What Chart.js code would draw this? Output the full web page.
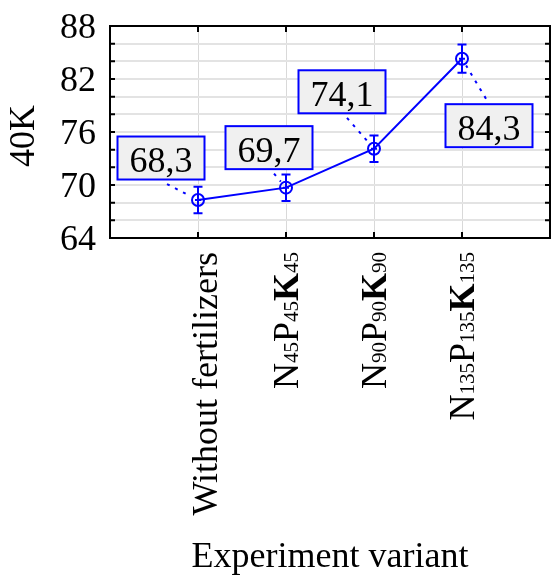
<!DOCTYPE html>
<html>
<head>
<meta charset="utf-8">
<script src="https://cdn.jsdelivr.net/npm/chart.js@4.4.1/dist/chart.umd.min.js"></script>
<style>
  html, body { margin: 0; padding: 0; background: #fff; overflow: hidden; }
  #wrap { width: 552px; height: 576px; }
  canvas { display: block; }
</style>
</head>
<body>
<div id="wrap"><canvas id="chart"></canvas></div>
<script>
const categories = ["Without fertilizers", "N45P45K45", "N90P90K90", "N135P135K135"];
const values = [68.3, 69.7, 74.1, 84.3];
const errors = [1.5, 1.5, 1.5, 1.6];
const yTicks = [64, 70, 76, 82, 88];
const yTitle = "40K";
const xTitle = "Experiment variant";

// where each value box sits, and where its dotted leader starts (px from the point)
const boxOffsets = [[-37, -42], [-17, -40], [-32, -57], [27, 67]];
const leaderStarts = [[-31, -16], [-12, -14], [-27, -31], [24, 40]];
const tickShift = [19, 12, 12, 12];

const FONT = "'Liberation Serif', 'Times New Roman', serif";
const BLUE = "#0000ff";

// "N45P45K45" -> N, 45 (sub), P, 45 (sub), K (bold), 45 (sub)
function labelParts(txt) {
  if (!/^([NPK]\d+)+$/.test(txt)) return [{ t: txt, sub: false, bold: false }];
  const parts = [];
  txt.replace(/([NPK])(\d+)/g, (m, el, n) => {
    parts.push({ t: el, sub: false, bold: el === "K" });
    parts.push({ t: n, sub: true, bold: false });
  });
  return parts;
}

function partFont(p) {
  return (p.bold ? "bold " : "") + (p.sub ? "21px " : "36px ") + FONT;
}

const fmt = v => v.toFixed(1).replace(".", ",");

const frame = {
  id: "frame",
  beforeDatasetsDraw(chart) {
    const { ctx, chartArea: a, scales } = chart;
    ctx.save();
    ctx.strokeStyle = "#000";
    ctx.lineWidth = 2;
    ctx.strokeRect(a.left, a.top, a.right - a.left, a.bottom - a.top);
    // inward tick marks
    ctx.beginPath();
    for (let v = 64; v <= 88; v += 2) {
      const y = scales.y.getPixelForValue(v);
      ctx.moveTo(a.left, y); ctx.lineTo(a.left + 5, y);
      ctx.moveTo(a.right, y); ctx.lineTo(a.right - 5, y);
    }
    categories.forEach((c, i) => {
      const x = scales.x.getPixelForValue(i);
      ctx.moveTo(x, a.top); ctx.lineTo(x, a.top + 6);
      ctx.moveTo(x, a.bottom); ctx.lineTo(x, a.bottom - 6);
    });
    ctx.stroke();

    // y tick labels
    ctx.fillStyle = "#000";
    ctx.font = "36px " + FONT;
    ctx.textAlign = "right";
    ctx.textBaseline = "alphabetic";
    yTicks.forEach(v => {
      ctx.fillText(String(v), a.left - 14, scales.y.getPixelForValue(v) + 12);
    });
    ctx.restore();
  },
  afterDatasetsDraw(chart) {
    const { ctx, chartArea: a, scales } = chart;
    const xs = scales.x, ys = scales.y;
    ctx.save();

    // error bars + cross inside markers
    ctx.strokeStyle = BLUE;
    ctx.lineWidth = 2;
    values.forEach((v, i) => {
      const x = xs.getPixelForValue(i);
      const y = ys.getPixelForValue(v);
      const t = ys.getPixelForValue(v + errors[i]);
      const b = ys.getPixelForValue(v - errors[i]);
      ctx.beginPath();
      ctx.moveTo(x, t); ctx.lineTo(x, b);
      ctx.moveTo(x - 4.5, t); ctx.lineTo(x + 4.5, t);
      ctx.moveTo(x - 4.5, b); ctx.lineTo(x + 4.5, b);
      ctx.moveTo(x - 3, y); ctx.lineTo(x + 3, y);
      ctx.stroke();
    });

    // value boxes with dotted leaders
    ctx.font = "36px " + FONT;
    values.forEach((v, i) => {
      const px = xs.getPixelForValue(i);
      const py = ys.getPixelForValue(v);
      const sx = px + leaderStarts[i][0], sy = py + leaderStarts[i][1];
      const d = Math.hypot(px - sx, py - sy);
      const ex = px - (px - sx) / d * 8, ey = py - (py - sy) / d * 8;
      ctx.save();
      ctx.setLineDash([3, 6]);
      ctx.beginPath();
      ctx.moveTo(sx, sy); ctx.lineTo(ex, ey);
      ctx.stroke();
      ctx.restore();

      const txt = fmt(v);
      const w = ctx.measureText(txt).width + 24, h = 43;
      const cx = px + boxOffsets[i][0], cy = py + boxOffsets[i][1];
      ctx.fillStyle = "#f0f0f0";
      ctx.fillRect(cx - w / 2, cy - h / 2, w, h);
      ctx.strokeRect(cx - w / 2, cy - h / 2, w, h);
      ctx.fillStyle = "#000";
      ctx.textAlign = "center";
      ctx.textBaseline = "alphabetic";
      ctx.fillText(txt, cx, cy + 14);
    });

    // rotated category labels with subscripts
    ctx.fillStyle = "#000";
    ctx.textAlign = "left";
    ctx.textBaseline = "alphabetic";
    categories.forEach((c, i) => {
      const parts = labelParts(c);
      let total = 0;
      parts.forEach(p => { ctx.font = partFont(p); p.w = ctx.measureText(p.t).width; total += p.w; });
      ctx.save();
      ctx.translate(xs.getPixelForValue(i) + tickShift[i], a.bottom + 14);
      ctx.rotate(-Math.PI / 2);
      let x = -total;
      parts.forEach(p => {
        ctx.font = partFont(p);
        ctx.fillText(p.t, x, 0);
        x += p.w;
      });
      ctx.restore();
    });

    // axis titles
    ctx.font = "36px " + FONT;
    ctx.textAlign = "center";
    ctx.fillText(xTitle, (a.left + a.right) / 2, 567);
    ctx.save();
    ctx.translate(34, (a.top + a.bottom) / 2 + 4);
    ctx.rotate(-Math.PI / 2);
    ctx.fillText(yTitle, 0, 0);
    ctx.restore();

    ctx.restore();
  }
};

const ctx = document.getElementById("chart").getContext("2d");

new Chart(ctx, {
  type: "line",
  data: {
    datasets: [{
      data: values.map((v, i) => ({ x: i, y: v })),
      borderColor: BLUE,
      borderWidth: 2,
      pointRadius: 6,
      pointBorderWidth: 2,
      pointBorderColor: BLUE,
      pointBackgroundColor: "rgba(0,0,0,0)",
      tension: 0,
      clip: false
    }]
  },
  options: {
    responsive: true,
    maintainAspectRatio: false,
    animation: false,
    layout: { autoPadding: false, padding: { top: 26, right: 2, left: 0, bottom: 0 } },
    plugins: { legend: { display: false }, tooltip: { enabled: false } },
    scales: {
      x: {
        type: "linear",
        min: -1,
        max: 4,
        afterBuildTicks: s => { s.ticks = categories.map((c, i) => ({ value: i })); },
        ticks: { display: false },
        grid: { color: "#d9d9d9", lineWidth: 1, drawTicks: false },
        border: { display: false },
        afterFit: s => { s.height = 338; }
      },
      y: {
        min: 64,
        max: 88,
        afterBuildTicks: s => {
          s.ticks = [];
          for (let v = 64; v <= 88; v += 2) s.ticks.push({ value: v });
        },
        ticks: { display: false },
        grid: { color: "#e3e3e3", lineWidth: 2, drawTicks: false },
        border: { display: false },
        afterFit: s => { s.width = 110; }
      }
    }
  },
  plugins: [frame]
});
</script>
</body>
</html>
